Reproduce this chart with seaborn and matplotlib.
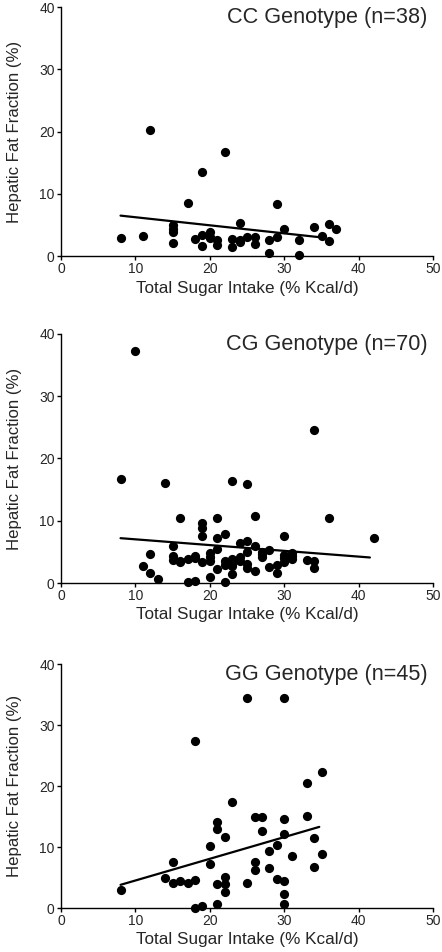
import numpy as np
import matplotlib
matplotlib.use("Agg")
import matplotlib.pyplot as plt
import seaborn as sns

# ======== DATA ========
cc_sugar = [8, 11, 12, 15, 15, 15, 15, 17, 18, 19, 19, 19, 20, 20, 21, 21, 22, 23, 23,
            24, 24, 24, 25, 26, 26, 28, 28, 29, 29, 30, 32, 32, 34, 35, 36, 36, 37, 20]
cc_fat = [2.9, 3.2, 20.2, 5.0, 4.4, 3.8, 2.1, 8.5, 2.7, 13.5, 3.4, 1.7, 3.8, 2.9, 2.6, 1.8, 16.7, 2.8, 1.4,
          5.3, 2.3, 2.6, 3.0, 3.0, 1.9, 2.6, 0.5, 8.4, 3.0, 4.4, 2.6, 0.2, 4.7, 3.2, 5.2, 2.5, 4.3, 3.1]

cg_sugar = [8, 10, 11, 12, 12, 13, 14, 15, 15, 15, 16, 16, 17, 17, 18, 18, 19, 19, 19, 19,
            20, 20, 20, 21, 21, 21, 21, 22, 22, 22, 23, 23, 23, 23, 24, 24, 25, 25, 25, 25,
            25, 26, 26, 26, 27, 27, 28, 28, 29, 29, 30, 30, 30, 31, 31, 33, 34, 34, 34, 36,
            42, 16, 22, 24, 30, 31, 20, 18, 27, 23]
cg_fat = [16.7, 37.2, 2.7, 4.6, 1.6, 0.7, 16.1, 5.9, 4.3, 3.7, 10.4, 3.4, 3.9, 0.1, 4.4, 0.4, 9.7, 8.9, 7.6, 3.3,
          4.8, 3.5, 0.9, 10.4, 7.2, 5.4, 2.3, 7.8, 3.5, 0.2, 16.4, 3.8, 2.7, 1.5, 6.4, 4.1, 15.9, 6.7, 5.0, 3.1,
          2.4, 10.8, 5.9, 1.9, 4.2, 5.0, 5.3, 2.6, 2.9, 1.6, 7.5, 4.5, 3.4, 4.8, 3.9, 3.7, 24.6, 3.6, 2.4, 10.5,
          7.3, 3.5, 2.9, 3.6, 4.0, 4.3, 4.2, 4.0, 4.6, 3.1]

gg_sugar = [8, 14, 15, 15, 16, 17, 18, 18, 18, 19, 20, 20, 21, 21, 21, 21, 22, 22, 22, 22,
            23, 25, 25, 26, 26, 26, 27, 27, 28, 28, 29, 29, 30, 30, 30, 30, 30, 30, 31, 33,
            33, 34, 34, 35, 35]
gg_fat = [2.9, 5.0, 7.5, 4.1, 4.5, 4.1, 27.3, 4.6, 0.0, 0.4, 10.1, 7.2, 14.1, 12.9, 3.9, 0.6, 11.7, 5.1, 3.9, 2.6,
          17.4, 34.5, 4.1, 14.9, 7.5, 6.3, 14.9, 12.6, 9.3, 6.6, 10.3, 4.8, 34.5, 14.6, 12.1, 4.4, 2.3, 0.7, 8.5, 20.5,
          15.1, 11.4, 6.7, 22.3, 8.8]

# regression lines (start / end)
cc_line_x, cc_line_y = [8, 35], [6.5, 3.0]
cg_line_x, cg_line_y = [8, 41.5], [7.2, 4.1]
gg_line_x, gg_line_y = [8, 34.7], [3.8, 13.3]

titles = ["CC Genotype (n=38)", "CG Genotype (n=70)", "GG Genotype (n=45)"]
x_ticks = [0, 10, 20, 30, 40, 50]
y_ticks = [0, 10, 20, 30, 40]

# ======== PLOT ========
sns.set_style("ticks")
plt.rcParams['font.family'] = ['Liberation Sans', 'DejaVu Sans']

fig = plt.figure(figsize=(4.42, 9.52), dpi=100)
positions = [
    [0.138, 0.731, 0.842, 0.2616],
    [0.138, 0.3876, 0.842, 0.2616],
    [0.138, 0.0462, 0.842, 0.2563],
]
panels = [
    (cc_sugar, cc_fat, cc_line_x, cc_line_y),
    (cg_sugar, cg_fat, cg_line_x, cg_line_y),
    (gg_sugar, gg_fat, gg_line_x, gg_line_y),
]

for pos, (xs, ys, lx, ly), title in zip(positions, panels, titles):
    ax = fig.add_axes(pos)
    sns.scatterplot(x=xs, y=ys, ax=ax, color="black", s=44, edgecolor="black",
                    linewidth=0, zorder=3, clip_on=False)
    sns.lineplot(x=lx, y=ly, ax=ax, color="black", linewidth=1.6, zorder=2)
    ax.set_xlim(0, 50)
    ax.set_ylim(0, 40)
    ax.set_xticks(x_ticks)
    ax.set_yticks(y_ticks)
    ax.tick_params(labelsize=10, length=3, width=1, pad=1.5, color="black")
    for side in ["left", "bottom"]:
        ax.spines[side].set_linewidth(1)
        ax.spines[side].set_color("black")
    sns.despine(ax=ax)
    ax.set_xlabel("Total Sugar Intake (% Kcal/d)", fontsize=12.3, labelpad=3)
    ax.set_ylabel("Hepatic Fat Fraction (%)", fontsize=12.1, labelpad=12)
    ax.text(0.985, 1.0, title, transform=ax.transAxes, ha="right", va="top", fontsize=15.6)

fig.savefig("out.png", dpi=100)
